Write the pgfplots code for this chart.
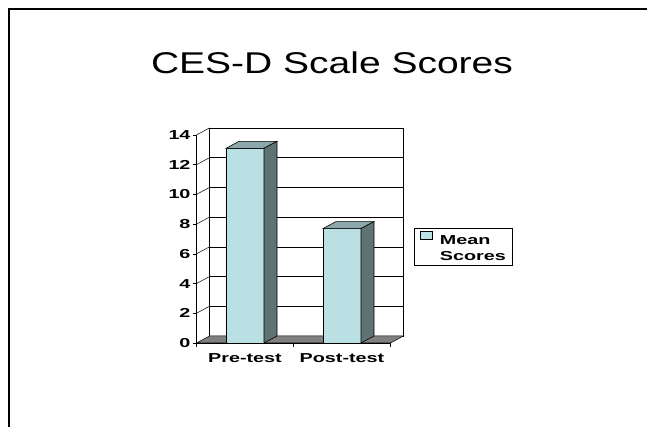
\documentclass[border=0pt]{standalone}
\usepackage{pgfplots}
\pgfplotsset{compat=1.18}
\usepackage{pgfplotstable}
\usepackage{fontspec}
\setmainfont{Liberation Sans}
\newfontfamily\titlefont[FakeStretch=1.3]{Liberation Sans}
\newfontfamily\chartfont[FakeStretch=1.52]{Liberation Sans Bold}
\definecolor{barfront}{HTML}{BBE0E3}
\definecolor{bartop}{HTML}{8DA8AA}
\definecolor{barside}{HTML}{607373}
\definecolor{floorgray}{HTML}{808080}
\newcommand\cfont{\chartfont\fontsize{13bp}{16bp}\selectfont}

\pgfplotstableread{
x v
0 13.1
1 7.7
}\scores

\pgfdeclareplotmark{cubeface}{%
  \pgfsetlinewidth{0.6bp}%
  \pgfsetstrokecolor{black}%
  \pgfsetfillcolor{bartop}%
  \pgfpathmoveto{\pgfpoint{-19bp}{0bp}}%
  \pgfpathlineto{\pgfpoint{-6bp}{7bp}}%
  \pgfpathlineto{\pgfpoint{32bp}{7bp}}%
  \pgfpathlineto{\pgfpoint{19bp}{0bp}}%
  \pgfpathclose
  \pgfusepath{fill,stroke}%
  \pgfsetfillcolor{barside}%
  \pgfpathmoveto{\pgfpoint{19bp}{0bp}}%
  \pgfpathlineto{\pgfpoint{32bp}{7bp}}%
  \pgfpathlineto{\pgfpoint{32bp}{7bp-\barval*14.86bp}}%
  \pgfpathlineto{\pgfpoint{19bp}{-\barval*14.86bp}}%
  \pgfpathclose
  \pgfusepath{fill,stroke}%
}

\begin{document}
\begin{tikzpicture}
\path[use as bounding box] (0,0) rectangle (647bp,427bp);
\draw[line width=1.8bp] (8.7bp,0) -- (8.7bp,417.8bp) -- (647bp,417.8bp);
\node[font=\titlefont\fontsize{30bp}{36bp}\selectfont, anchor=base] at (332bp,353bp) {CES-D Scale Scores};
\begin{axis}[
  at={(196.5bp,84bp)}, anchor=south west,
  x=97bp, y=14.86bp,
  xmin=-0.5, xmax=1.5, ymin=0, ymax=14,
  clip=false,
  axis x line=bottom, axis y line=left,
  axis line style={-, line width=0.6bp},
  ytick={0,2,...,14},
  xtick={0,1}, xticklabels={Pre-test,Post-test},
  minor xtick={-0.5,0.5,1.5},
  tick align=outside,
  major tick length=4bp, minor tick length=4bp,
  major x tick style={draw=none},
  tick style={black, line width=0.6bp},
  /pgf/number format/assume math mode=true,
  ticklabel style={font=\cfont},
  xticklabel style={yshift=-3bp},
  yticklabel style={xshift=1.5bp},
  legend style={at={(1.121,0.553)}, anchor=north west, draw=black, fill=white,
    line width=0.6bp, font=\cfont, inner xsep=5.5bp, inner ysep=2.5bp,
    row sep=0bp, column sep=6bp,
    nodes={text height=12bp, text depth=1bp, inner sep=1.5bp}},
  legend cell align=left,
  legend image code/.code={\filldraw[#1] (0bp,-1bp) rectangle (12bp,7bp);},
]
% back wall and side wall
\filldraw[fill=white, draw=black, line width=0.5bp]
  ([shift={(13bp,7bp)}]axis cs:-0.5,0) rectangle ([shift={(13bp,7bp)}]axis cs:1.5,14);
\pgfplotsinvokeforeach{2,4,6,8,10,12}{
  \draw[line width=0.5bp] ([shift={(13bp,7bp)}]axis cs:-0.5,#1) -- ([shift={(13bp,7bp)}]axis cs:1.5,#1);
}
\pgfplotsinvokeforeach{2,4,6,8,10,12,14}{
  \draw[line width=0.5bp] (axis cs:-0.5,#1) -- ([shift={(13bp,7bp)}]axis cs:-0.5,#1);
}
% floor
\filldraw[fill=floorgray, draw=black, line width=0.5bp]
  (axis cs:-0.5,0) -- (axis cs:1.5,0) -- ([shift={(13bp,7bp)}]axis cs:1.5,0)
  -- ([shift={(13bp,7bp)}]axis cs:-0.5,0) -- cycle;
% bars
\addplot[ybar, bar width=38bp, fill=barfront, draw=black, line width=0.6bp]
  table[x=x,y=v]{\scores};
\addlegendentry{Mean}
\addlegendimage{empty legend}
\addlegendentry{Scores}
\addplot[only marks, mark=cubeface, visualization depends on={\thisrow{v} \as \barval}, forget plot]
  table[x=x,y=v]{\scores};
\end{axis}
\end{tikzpicture}
\end{document}
